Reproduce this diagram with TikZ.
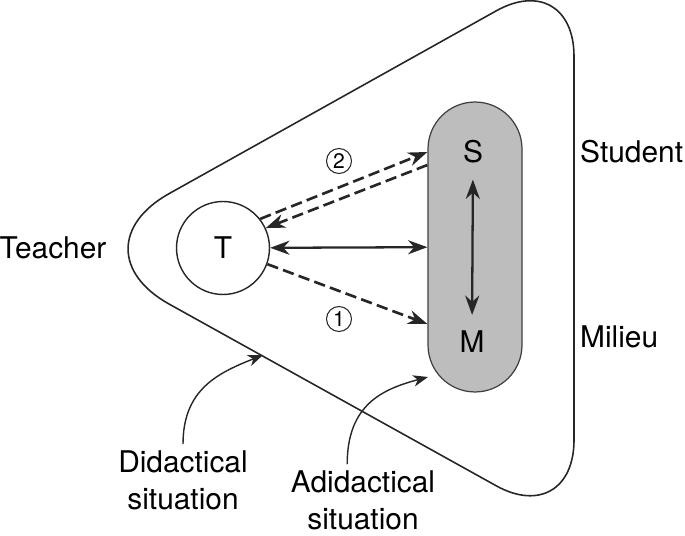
\documentclass[tikz,border=0pt]{standalone}
\usepackage{fontspec}
\setmainfont{TeX Gyre Heros}
\usetikzlibrary{arrows.meta,calc}
\tikzset{
  outline/.style={draw=black!85,line width=0.9pt},
  headarrow/.style={-{Stealth[length=11pt,width=8pt,inset=3.5pt]}},
  bothheads/.style={{Stealth[length=11pt,width=8pt,inset=3.5pt]}-{Stealth[length=11pt,width=8pt,inset=3.5pt]}},
  solidarrow/.style={line width=1.3pt,black!85,bothheads},
  dasharrow/.style={line width=1.5pt,black!85,dash pattern=on 6.5pt off 3pt,headarrow},
  curvearrow/.style={line width=0.8pt,black!85,-{Stealth[length=8.5pt,width=6.5pt,inset=2.5pt]}},
  textlabel/.style={font=\fontsize{17}{21}\selectfont,align=center},
  circnum/.style={circle,draw=black!85,line width=0.6pt,minimum size=0.5cm,inner sep=0pt,
    font=\fontsize{12}{14}\selectfont},
}
\begin{document}
\begin{tikzpicture}[x=0.02cm,y=-0.02cm]
  \useasboundingbox (0,0) rectangle (685,536);
  % outer situation
  \draw[outline] (574,250) [rounded corners=1.78cm] -- (574,-32.6)
    [rounded corners=2.27cm] -- (70,249) [rounded corners=1.78cm] -- (574,529) -- cycle;
  \node[circle,draw=black!85,line width=0.8pt,minimum size=1.86cm,inner sep=0pt,textlabel] (T) at (223,248) {T};
  \node[rectangle,rounded corners=0.94cm,minimum width=1.88cm,minimum height=5.8cm,
    fill=black!26,draw=black!75,line width=0.7pt] (cap) at (475,247) {};
  \node[textlabel,inner sep=0pt] (S) at (473,152) {S};
  \node[textlabel,inner sep=0pt] (M) at (472,342) {M};
  \node[textlabel] (teacher) at (53,248) {Teacher};
  \node[textlabel,anchor=west] (student) at (574,152) {Student};
  \node[textlabel,anchor=west] (milieu) at (574,337) {Milieu};
  \node[textlabel] (did) at (183,480) {Didactical\\situation};
  \node[textlabel] (adid) at (363,500) {Adidactical\\situation};
  \node[circnum] (n2) at (339,161) {2};
  \node[circnum] (n1) at (339,319) {1};
  \coordinate (dpt) at (263,355);
  \coordinate (apt) at (428,377);
  \begin{scope}
    \draw[solidarrow] (T) -- (cap);
    \draw[solidarrow,shorten <=9pt,shorten >=9pt] (S.south) -- (M.north);
    \draw[dasharrow] (T.38) -- (S -| cap.west);
    \draw[dasharrow] ($(S -| cap.west)+(0,13)$) -- (T.25);
    \draw[dasharrow] (T.-20) -- ($(M -| cap.west)+(0,-18)$);
    \draw[curvearrow] (did.north) .. controls +(0,-55) and +(-45,18) .. (dpt);
    \draw[curvearrow] ([xshift=-9pt]adid.north) .. controls +(0,-60) and +(-45,12) .. (apt);
  \end{scope}
\end{tikzpicture}
\end{document}
